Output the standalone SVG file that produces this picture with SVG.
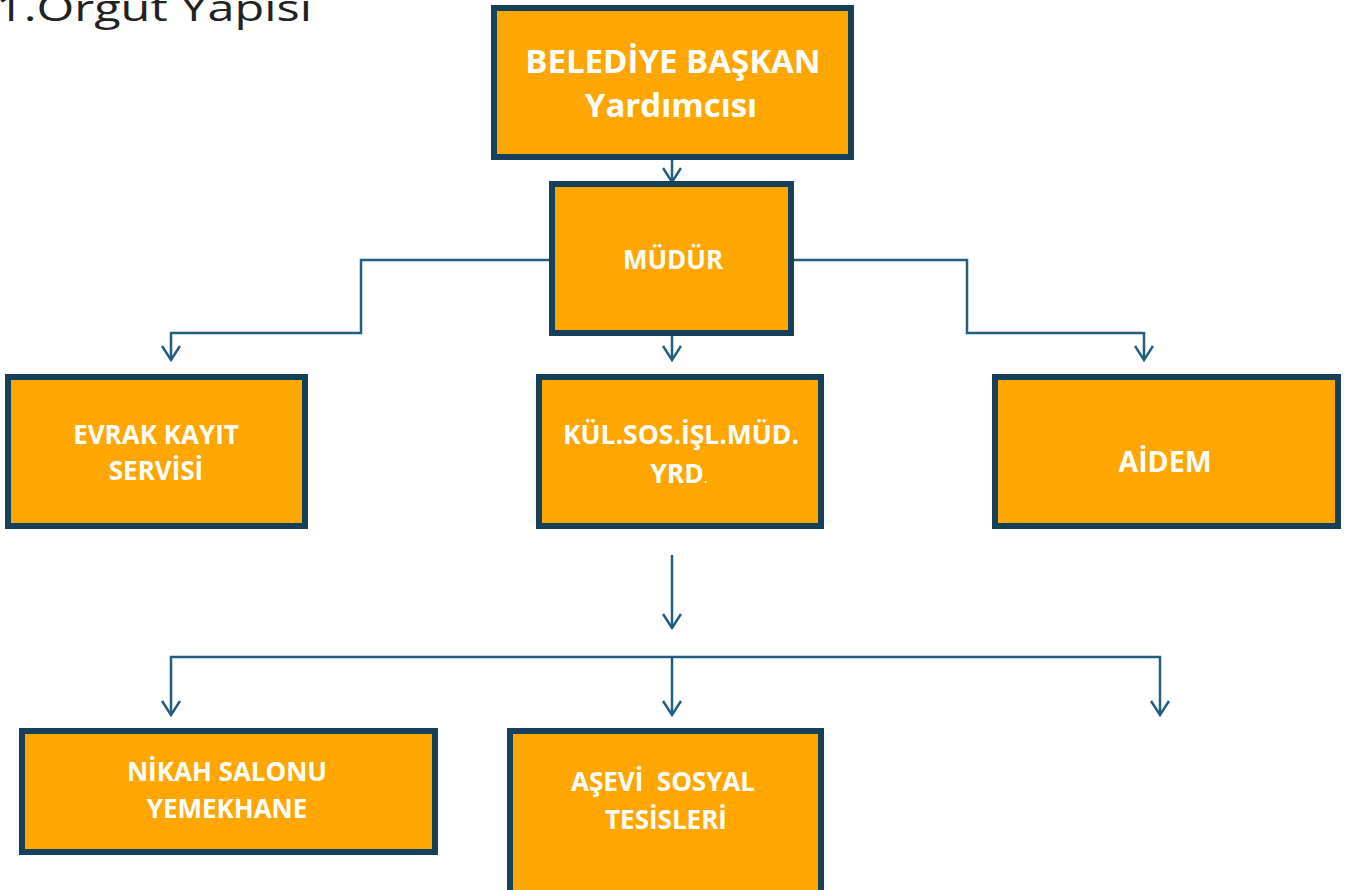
<svg xmlns="http://www.w3.org/2000/svg" width="1351" height="890" viewBox="0 0 1351 890">
<defs>
<style>
.box{fill:#FFA700;stroke:#14405A;stroke-width:6;}
.t{fill:#FFFFFF;font-family:"Open Sans","Liberation Sans",sans-serif;font-weight:bold;text-anchor:middle;}
.c{fill:none;stroke:#215E80;stroke-width:2.5;}
</style>
<marker id="ah" markerWidth="20" markerHeight="20" refX="16" refY="10" orient="auto-start-reverse" markerUnits="userSpaceOnUse" viewBox="0 0 20 20">
<path d="M2,1 L16,10 L2,19" fill="none" stroke="#215E80" stroke-width="2.5"/>
</marker>
</defs>
<text x="-4" y="21" font-family="Open Sans, Liberation Sans, sans-serif" font-size="36" fill="#222" textLength="316" lengthAdjust="spacingAndGlyphs">1.Örgüt Yapısı</text>
<g id="connectors">
<path class="c" d="M672,160 V182" marker-end="url(#ah)"/>
<path class="c" d="M552,260 H361 V333 H171 V360" marker-end="url(#ah)"/>
<path class="c" d="M672,336 V360" marker-end="url(#ah)"/>
<path class="c" d="M791,260 H967 V333 H1144 V360" marker-end="url(#ah)"/>
<path class="c" d="M672,555 V628" marker-end="url(#ah)"/>
<path class="c" d="M171,715 V657 H1160 V715" marker-end="url(#ah)" marker-start="url(#ah)"/>
<path class="c" d="M672,657 V715" marker-end="url(#ah)"/>
</g>
<g id="n-baskan">
<rect class="box" x="494" y="8" width="357" height="149"/>
<text class="t" x="673" y="73" font-size="33">BELEDİYE BAŞKAN</text>
<text class="t" x="671" y="117" font-size="33">Yardımcısı</text>
</g>
<g id="n-mudur">
<rect class="box" x="552" y="184" width="239" height="149"/>
<text class="t" x="673" y="269" font-size="26">MÜDÜR</text>
</g>
<g id="n-evrak">
<rect class="box" x="8" y="377" width="297" height="149"/>
<text class="t" x="156" y="444" font-size="26">EVRAK KAYIT</text>
<text class="t" x="156" y="480" font-size="26">SERVİSİ</text>
</g>
<g id="n-kul">
<rect class="box" x="539" y="377" width="282" height="149"/>
<text class="t" x="681" y="444" font-size="26.5">KÜL.SOS.İŞL.MÜD.</text>
<text class="t" x="679" y="483" font-size="26.5">YRD<tspan font-size="15" font-weight="normal">.</tspan></text>
</g>
<g id="n-aidem">
<rect class="box" x="995" y="377" width="343" height="149"/>
<text class="t" x="1165" y="472" font-size="28.5">AİDEM</text>
</g>
<g id="n-nikah">
<rect class="box" x="22" y="731" width="413" height="121"/>
<text class="t" x="227" y="781" font-size="26">NİKAH SALONU</text>
<text class="t" x="227" y="818" font-size="26">YEMEKHANE</text>
</g>
<g id="n-asevi">
<rect class="box" x="510" y="731" width="311" height="170"/>
<text class="t" x="663" y="791" font-size="26" xml:space="preserve">AŞEVİ  SOSYAL</text>
<text class="t" x="666" y="829" font-size="26">TESİSLERİ</text>
</g>
</svg>
